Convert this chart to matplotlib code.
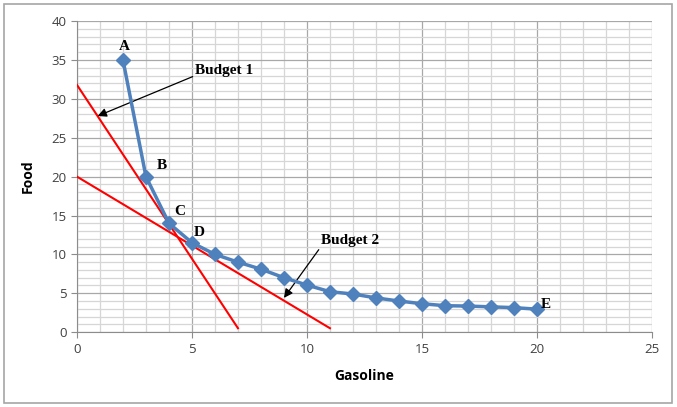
import matplotlib.pyplot as plt
from matplotlib.patches import Rectangle

# Dane
gasoline = [2, 3, 4, 5, 6, 7, 8, 9, 10, 11, 12, 13, 14, 15, 16, 17, 18, 19, 20]
food = [35, 20, 14, 11.5, 10, 9, 8.1, 7, 6.05, 5.2, 4.9, 4.4, 4.0, 3.65, 3.4, 3.35, 3.25, 3.15, 2.95]

budget1_x = [0, 7]
budget1_y = [31.8, 0.5]
budget2_x = [0, 11]
budget2_y = [20, 0.5]

point_labels = ['A', 'B', 'C', 'D', 'E']
label_x = [2.05, 3.7, 4.45, 5.3, 20.4]
label_y = [36.8, 21.4, 15.5, 12.8, 3.6]

plt.rcParams['font.family'] = ['Open Sans', 'DejaVu Sans']

fig = plt.figure(figsize=(6.77, 4.07), dpi=100)
ax = fig.add_axes([0.1137, 0.184, 0.8493, 0.764])

# Ramka wokol calego wykresu
fig.patches.append(Rectangle((0.006, 0.01), 0.986, 0.98, transform=fig.transFigure,
                             fill=False, edgecolor='#a6a6a6', linewidth=1.2))

ax.set_xlim(0, 25)
ax.set_ylim(0, 40)
ax.set_xticks(range(0, 26, 5))
ax.set_yticks(range(0, 41, 5))
ax.set_xticks(range(0, 26), minor=True)
ax.set_yticks(range(0, 41), minor=True)
ax.grid(True, which='major', color='#a8a8a8', linewidth=0.9)
ax.grid(True, which='minor', color='#d6d6d6', linewidth=0.9)
ax.set_axisbelow(True)
for side in ['top', 'right']:
    ax.spines[side].set_visible(False)
for side in ['left', 'bottom']:
    ax.spines[side].set_color('#8c8c8c')
ax.tick_params(which='major', length=4, color='#8c8c8c', labelsize=9.5, labelcolor='#404040')
ax.tick_params(which='minor', length=0)

ax.plot(budget1_x, budget1_y, color='#ff0000', linewidth=1.5, zorder=3)
ax.plot(budget2_x, budget2_y, color='#ff0000', linewidth=1.5, zorder=3)
ax.plot(gasoline, food, color='#4f81bd', linewidth=2.5, marker='D', markersize=7, zorder=4)

for t, x, y in zip(point_labels, label_x, label_y):
    ax.text(x, y, t, ha='center', va='center', fontsize=11, fontweight='bold',
            family='Liberation Serif', zorder=5)

ax.annotate('Budget 1', xy=(0.9, 27.8), xytext=(5.15, 33.6), va='center', ha='left',
            fontsize=11, fontweight='bold', family='Liberation Serif',
            arrowprops=dict(arrowstyle='-|>', color='black', lw=0.9, shrinkA=0, shrinkB=0,
                            mutation_scale=13, relpos=(0, 0.15)))
ax.annotate('Budget 2', xy=(9.0, 4.4), xytext=(10.6, 11.8), va='center', ha='left',
            fontsize=11, fontweight='bold', family='Liberation Serif',
            arrowprops=dict(arrowstyle='-|>', color='black', lw=0.9, shrinkA=0, shrinkB=0,
                            mutation_scale=13, relpos=(0, 0.0)))

ax.set_xlabel('Gasoline', fontsize=10, fontweight='bold', labelpad=10)
ax.set_ylabel('Food', fontsize=10, fontweight='bold', labelpad=12)

plt.savefig('out.png', dpi=100)
